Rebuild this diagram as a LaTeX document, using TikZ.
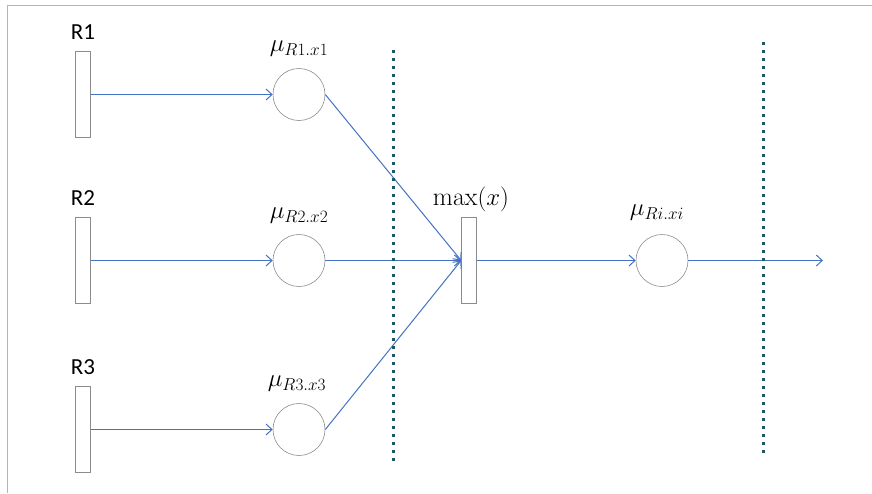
\documentclass[tikz,border=0pt]{standalone}
\usepackage{fontspec}
\newfontfamily\lblfont{Carlito}
\usetikzlibrary{arrows.meta}
\definecolor{arrowblue}{RGB}{68,114,196}
\definecolor{dotteal}{RGB}{30,88,104}
\definecolor{framegray}{RGB}{172,182,196}
\definecolor{shapegray}{RGB}{140,140,140}
\tikzset{
  bar/.style={draw=shapegray, line width=0.7pt, fill=white, minimum width=15pt, minimum height=86pt, inner sep=0pt},
  place/.style={draw=shapegray, line width=0.6pt, circle, minimum size=52pt, inner sep=0pt},
  rlabel/.style={font=\lblfont\fontsize{23}{27}\selectfont, inner sep=0pt},
  mlabel/.style={font=\fontsize{25}{29}\selectfont, inner sep=0pt},
  maxlabel/.style={font=\fontsize{26}{30}\selectfont, inner sep=0pt},
  flow/.style={draw=arrowblue, line width=1pt, -{Straight Barb[length=6pt,width=11pt,line width=1pt]}},
  divider/.style={draw=dotteal, line width=3pt, dash pattern=on 3pt off 5pt},
  frame/.style={draw=framegray, line width=1pt}
}
\begin{document}
\begin{tikzpicture}[x=1pt,y=-1pt]
\useasboundingbox (0,0) rectangle (872,493);
\coordinate (f1) at (7.5,493);
\coordinate (f2) at (7.5,5.5);
\coordinate (f3) at (872,5.5);
\draw[frame] (f1) -- (f2) -- (f3);

% bars
\node[bar] (r1) at (83,94.5) {};
\node[bar] (r2) at (83,260.5) {};
\node[bar] (r3) at (83,429.5) {};
\node[bar] (mx) at (469,260.5) {};

\node[rlabel] (lr1) at (83,32) {R1};
\node[rlabel] (lr2) at (83,198) {R2};
\node[rlabel] (lr3) at (83,367) {R3};

% places
\node[place] (c1) at (299,94.5) {};
\node[place] (c2) at (299,260.5) {};
\node[place] (c3) at (299,429.5) {};
\node[place] (c4) at (662,260.5) {};

\node[mlabel] (lc1) at (299,49) {$\mu_{R1.x1}$};
\node[mlabel] (lc2) at (299,216) {$\mu_{R2.x2}$};
\node[mlabel] (lc3) at (297,384) {$\mu_{R3.x3}$};
\node[mlabel] (lc4) at (657,213) {$\mu_{Ri.xi}$};
\node[maxlabel] (lmx) at (471,199) {$\max(x)$};

% dividers
\coordinate (d1a) at (393,50);
\coordinate (d1b) at (393,463);
\coordinate (d2a) at (763,42);
\coordinate (d2b) at (763,455);
\coordinate (out) at (823,260.5);

% flows
\draw[flow] (r1.east) -- (c1.west);
\draw[flow] (r2.east) -- (c2.west);
\draw[flow] (r3.east) -- (c3.west);
\draw[flow] (c1.east) -- (mx.west);
\draw[flow] (c2.east) -- (mx.west);
\draw[flow] (c3.east) -- (mx.west);
\draw[flow] (mx.east) -- (c4.west);
\draw[flow] (c4.east) -- (out);

\draw[divider] (d1a) -- (d1b);
\draw[divider] (d2a) -- (d2b);
\end{tikzpicture}
\end{document}
